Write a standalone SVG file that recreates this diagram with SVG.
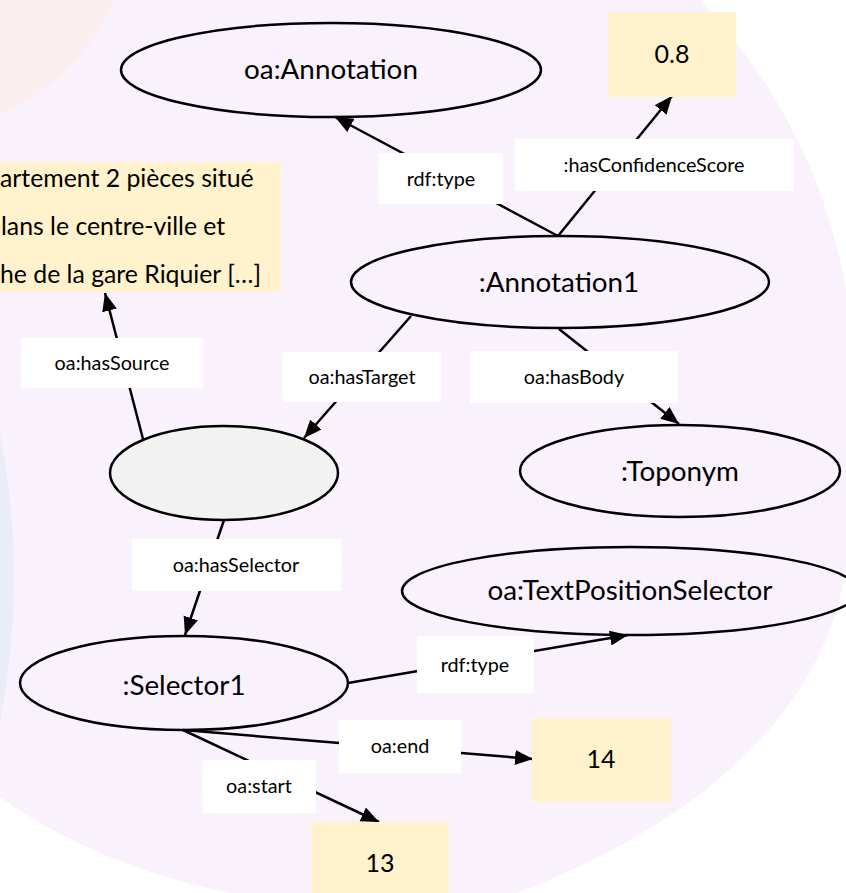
<svg xmlns="http://www.w3.org/2000/svg" width="846" height="893" viewBox="0 0 846 893">
  <defs>
    <style>
      text { font-family: Lato, "Open Sans", "Liberation Sans", sans-serif; fill: #000; text-anchor: middle; }
      .node { fill: none; stroke: #000; stroke-width: 2.5; }
      .blank { fill: #f2f2f2; stroke: #000; stroke-width: 2.5; }
      .literal { fill: #fff2cc; }
      .big { font-size: 27.8px; }
      .num { font-size: 25px; }
      .small { font-size: 19.8px; }
      .para { font-size: 24.8px; text-anchor: start; }
      .edge { stroke: #000; stroke-width: 2.5; fill: none; marker-end: url(#arrow); }
      .tag { fill: #fff; }
    </style>
    <marker id="arrow" markerUnits="userSpaceOnUse" markerWidth="19" markerHeight="16" refX="18" refY="7.5" orient="auto">
      <path d="M0,0 L18,7.5 L0,15 Z" fill="#000"/>
    </marker>
  </defs>

  <!-- soft background shapes -->
  <g id="background">
    <rect width="846" height="893" fill="#fff"/>
    <path d="M0,0 H700 C770,75 825,170 846,290 V565 C830,690 730,810 517,893 H230 C140,875 60,840 0,797 Z" fill="#f9f2fd"/>
    <circle cx="-80" cy="-80" r="210" fill="#fbeeef"/>
    <circle cx="-744" cy="577" r="758" fill="#e9edf8"/>
  </g>

  <!-- connectors with their property labels -->
  <g id="connectors">
    <g id="e-annotation-type">
      <line class="edge" x1="558" y1="236" x2="335" y2="117"/>
      <rect class="tag" x="379" y="153" width="124" height="51"/>
      <text class="small" x="441" y="186">rdf:type</text>
    </g>
    <g id="e-confidence">
      <line class="edge" x1="558" y1="236" x2="672" y2="96"/>
      <rect class="tag" x="515" y="139" width="279" height="52"/>
      <text class="small" x="654" y="172">:hasConfidenceScore</text>
    </g>
    <g id="e-target">
      <line class="edge" x1="411" y1="316" x2="304" y2="438"/>
      <rect class="tag" x="283" y="352" width="158" height="50"/>
      <text class="small" x="362" y="384">oa:hasTarget</text>
    </g>
    <g id="e-body">
      <line class="edge" x1="559" y1="329" x2="679" y2="424"/>
      <rect class="tag" x="470" y="351" width="208" height="52"/>
      <text class="small" x="574" y="384">oa:hasBody</text>
    </g>
    <g id="e-source">
      <line class="edge" x1="143" y1="439" x2="105" y2="293"/>
      <rect class="tag" x="21" y="338" width="182" height="50"/>
      <text class="small" x="112" y="370">oa:hasSource</text>
    </g>
    <g id="e-selector">
      <line class="edge" x1="224" y1="520" x2="185" y2="635"/>
      <rect class="tag" x="132" y="539" width="209" height="52"/>
      <text class="small" x="236" y="572">oa:hasSelector</text>
    </g>
    <g id="e-selector-type">
      <line class="edge" x1="348" y1="683" x2="628" y2="635"/>
      <rect class="tag" x="417" y="636" width="117" height="57"/>
      <text class="small" x="475" y="672">rdf:type</text>
    </g>
    <g id="e-end">
      <line class="edge" x1="183" y1="730" x2="533" y2="759"/>
      <rect class="tag" x="339" y="720" width="122" height="53"/>
      <text class="small" x="400" y="753">oa:end</text>
    </g>
    <g id="e-start">
      <line class="edge" x1="183" y1="730" x2="379" y2="822"/>
      <rect class="tag" x="203" y="760" width="113" height="53"/>
      <text class="small" x="259" y="793">oa:start</text>
    </g>
  </g>

  <!-- nodes -->
  <g id="oa-annotation">
    <ellipse class="node" cx="331" cy="70" rx="210" ry="47"/>
    <text class="big" x="331" y="79">oa:Annotation</text>
  </g>
  <g id="score">
    <rect class="literal" x="608" y="12" width="128" height="85"/>
    <text class="num" x="672" y="63">0.8</text>
  </g>
  <g id="source-text">
    <rect class="literal" x="0" y="162" width="281" height="130"/>
    <text class="para" x="0" y="187">artement 2 pièces situé</text>
    <text class="para" x="1" y="235">lans le centre-ville et</text>
    <text class="para" x="0" y="283">he de la gare Riquier […]</text>
  </g>
  <g id="annotation1">
    <ellipse class="node" cx="560" cy="282" rx="209" ry="46"/>
    <text class="big" x="559" y="292">:Annotation1</text>
  </g>
  <g id="target">
    <ellipse class="blank" cx="224" cy="473" rx="114" ry="47"/>
  </g>
  <g id="toponym">
    <ellipse class="node" cx="680" cy="471" rx="160" ry="46"/>
    <text class="big" x="680" y="481">:Toponym</text>
  </g>
  <g id="text-position-selector">
    <ellipse class="node" cx="630" cy="591" rx="228" ry="44"/>
    <text class="big" x="630" y="600">oa:TextPositionSelector</text>
  </g>
  <g id="selector1">
    <ellipse class="node" cx="184" cy="683" rx="164" ry="47"/>
    <text class="big" x="184" y="695">:Selector1</text>
  </g>
  <g id="end-value">
    <rect class="literal" x="532" y="718" width="139" height="84"/>
    <text class="num" x="601" y="768">14</text>
  </g>
  <g id="start-value">
    <rect class="literal" x="311" y="822" width="138" height="85"/>
    <text class="num" x="380" y="872">13</text>
  </g>
</svg>
